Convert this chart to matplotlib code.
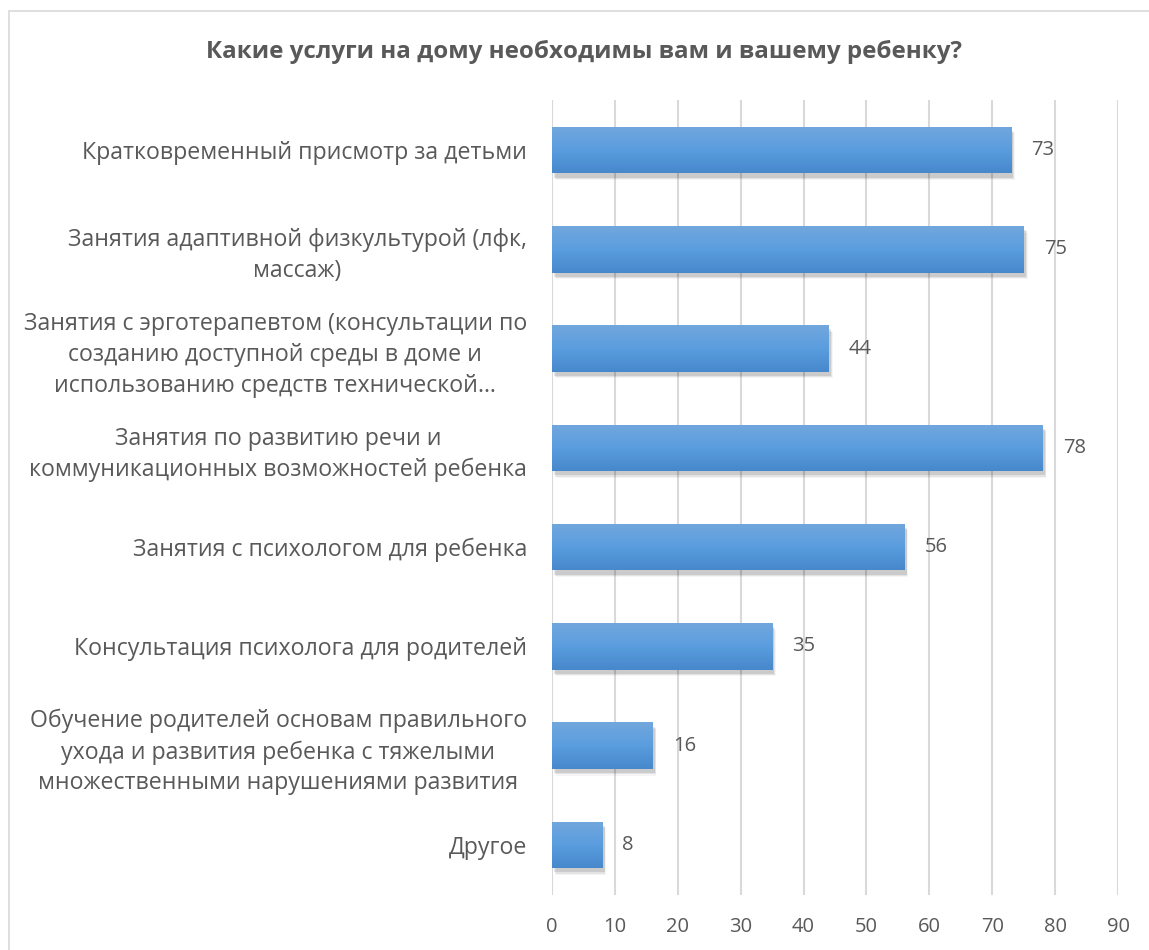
import matplotlib
matplotlib.use("Agg")
import matplotlib.pyplot as plt
import numpy as np
from matplotlib.patches import Rectangle
from matplotlib.colors import LinearSegmentedColormap

plt.rcParams['font.family'] = ['Open Sans', 'DejaVu Sans']

categories = [
    "Кратковременный присмотр за детьми",
    "Занятия адаптивной физкультурой (лфк,\nмассаж)",
    "Занятия с эрготерапевтом (консультации по\nсозданию доступной среды в доме и\nиспользованию средств технической…",
    "Занятия по развитию речи и\nкоммуникационных возможностей ребенка",
    "Занятия с психологом для ребенка",
    "Консультация психолога для родителей",
    "Обучение родителей основам правильного\nухода и развития ребенка с тяжелыми\nмножественными нарушениями развития",
    "Другое",
]
values = [73, 75, 44, 78, 56, 35, 16, 8]
xticks = [0, 10, 20, 30, 40, 50, 60, 70, 80, 90]
title = "Какие услуги на дому необходимы вам и вашему ребенку?"

txt = "#595959"
W, H = 1149, 950
fig = plt.figure(figsize=(W / 100, H / 100), dpi=100)
fig.patch.set_facecolor("white")

# chart frame
fig.add_artist(Rectangle((9 / W, -0.01), 1.2, 1 - 11 / H + 0.01, transform=fig.transFigure,
                         fill=False, edgecolor="#d9d9d9", linewidth=1.2))

ax = fig.add_axes([552 / W, 1 - 894.6 / H, (1118 - 552) / W, (894.6 - 100.4) / H])
n = len(categories)
y = np.arange(n)
bh = 0.47

grad = np.linspace(0, 1, 256).reshape(-1, 1)
cmap = LinearSegmentedColormap.from_list("g", ["#72a7dd", "#5a9ddf", "#4688cb"])

for yi, v in zip(y, values):
    # soft shadow
    for k, a in enumerate([0.10, 0.07, 0.04]):
        d = 0.012 * (k + 1)
        ax.add_patch(Rectangle((0.25 + d * 10, yi - bh / 2 + 0.03 + d), v, bh,
                               facecolor="black", alpha=a, edgecolor="none", zorder=2))
    r = Rectangle((0, yi - bh / 2), v, bh, facecolor="none", edgecolor="none", zorder=3)
    ax.add_patch(r)
    im = ax.imshow(grad, aspect="auto", cmap=cmap, extent=(0, v, yi + bh / 2, yi - bh / 2),
                   zorder=3, interpolation="bilinear")
    im.set_clip_path(r)
    ax.text(v + 3.2, yi, str(v), va="center", ha="left", fontsize=14.5, color=txt, zorder=4)

ax.set_xlim(0, 90)
ax.set_ylim(n - 0.5, -0.5)
ax.set_xticks(xticks)
ax.set_xticklabels([str(t) for t in xticks])
ax.set_yticks(y)
ax.set_yticklabels(categories, multialignment="center", linespacing=1.38)
ax.tick_params(axis="y", length=0, pad=18, labelsize=16.7, labelcolor=txt)
ax.tick_params(axis="x", length=0, pad=16, labelsize=14.5, labelcolor=txt)
ax.grid(axis="x", color="#d9d9d9", linewidth=1.5, zorder=0)
ax.set_axisbelow(True)
for s in ax.spines.values():
    s.set_visible(False)
ax.axvline(0, color="#d9d9d9", linewidth=1.5, zorder=1)

fig.text(584 / W, 1 - 52 / H, title, ha="center", va="center", fontsize=17.4,
         fontweight="bold", color=txt)

fig.savefig("out.png", dpi=100)
